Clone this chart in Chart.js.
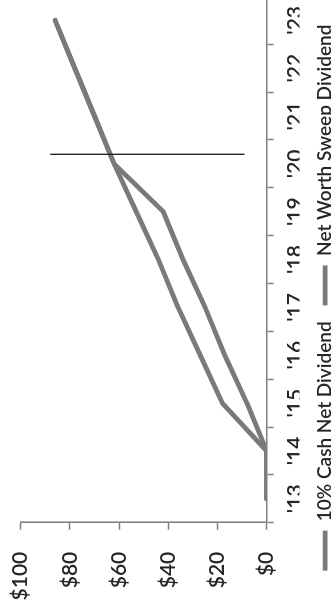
<!DOCTYPE html>
<html>
<head>
<meta charset="utf-8">
<script src="https://cdn.jsdelivr.net/npm/chart.js@4.4.1/dist/chart.umd.min.js"></script>
<style>
  html, body { margin: 0; padding: 0; background: #fff; overflow: hidden; width: 331px; height: 604px; }
  /* the chart is laid out landscape and turned a quarter turn to stand on its side */
  #frame {
    position: absolute; left: 0; top: 0;
    width: 610px; height: 400px;
    transform-origin: 0 0;
    transform: translateY(604px) rotate(-90deg);
  }
  #chart { display: block; }
</style>
</head>
<body>
<div id="frame"><canvas id="chart" width="610" height="400"></canvas></div>
<script>
// Dividend per year under the two policies
const years = ["'13", "'14", "'15", "'16", "'17", "'18", "'19", "'20", "'21", "'22", "'23"];
const cashNetDividend = [0, 0, 18, 27, 36, 44, 53, 62, 70, 78, 86];
const netWorthSweepDividend = [0, 0, 8, 17, 25, 34, 42, 62, 70, 78, 86];
const seriesNames = ['10% Cash Net Dividend', 'Net Worth Sweep Dividend'];
const valueTicks = [0, 20, 40, 60, 80, 100];

// Reference mark: a rule shortly after '20, spanning this dividend range
const markerYearIndex = 7.2;
const markerRange = [9, 88];

// Plot area edges inside the landscape canvas
const plotFrame = { left: 81.3, right: 609.3, top: 20.7, bottom: 266.6 };

const FONT = 'Lato, "Open Sans", sans-serif';
const LINE_GREY = '#7a7a7a';
const AXIS_GREY = '#808080';
const TEXT = '#262626';

const markerRule = {
  id: 'markerRule',
  afterDatasetsDraw(chart) {
    const xs = chart.scales.x, ys = chart.scales.y;
    const i = Math.floor(markerYearIndex), f = markerYearIndex - i;
    const x0 = xs.getPixelForValue(i), x1 = xs.getPixelForValue(i + 1);
    const px = x0 + (x1 - x0) * f;
    const ctx = chart.ctx;
    ctx.save();
    ctx.strokeStyle = '#1a1a1a';
    ctx.lineWidth = 1.3;
    ctx.beginPath();
    ctx.moveTo(px, ys.getPixelForValue(markerRange[0]));
    ctx.lineTo(px, ys.getPixelForValue(markerRange[1]));
    ctx.stroke();
    ctx.restore();
  }
};

const lineStyle = {
  borderColor: LINE_GREY,
  backgroundColor: LINE_GREY,
  borderWidth: 4.8,
  pointRadius: 0,
  tension: 0,
  borderJoinStyle: 'round',
  borderCapStyle: 'round'
};

// axes keep no extra edge padding so the plot area can sit flush with plotFrame
function noEdgePadding(scale) {
  scale.paddingTop = 0;
  scale.paddingBottom = 0;
  scale.paddingLeft = 0;
  scale.paddingRight = 0;
}

const chart = new Chart(document.getElementById('chart'), {
  type: 'line',
  data: {
    labels: years,
    datasets: [
      Object.assign({ label: seriesNames[0], data: cashNetDividend }, lineStyle),
      Object.assign({ label: seriesNames[1], data: netWorthSweepDividend }, lineStyle)
    ]
  },
  options: {
    responsive: false,
    animation: false,
    devicePixelRatio: 1,
    layout: { padding: { left: 0, right: 0.7, top: 20.7, bottom: 45 } },
    plugins: {
      tooltip: { enabled: false },
      legend: {
        position: 'bottom',
        labels: {
          usePointStyle: true,
          pointStyle: 'line',
          pointStyleWidth: 40,
          padding: 16,
          color: TEXT,
          font: { family: FONT, size: 19, weight: '600' }
        }
      }
    },
    scales: {
      x: {
        type: 'category',
        offset: true,
        grid: {
          offset: true,
          drawOnChartArea: false,
          tickLength: 7,
          tickWidth: 1.5,
          tickColor: AXIS_GREY
        },
        border: { display: true, color: AXIS_GREY, width: 1.6 },
        ticks: {
          color: TEXT,
          font: { family: FONT, size: 21, weight: '600' },
          padding: 9,
          maxRotation: 0,
          autoSkip: false
        },
        afterFit(scale) { scale.height = 33; noEdgePadding(scale); }
      },
      y: {
        min: 0,
        max: 100,
        afterBuildTicks(scale) { scale.ticks = valueTicks.map(v => ({ value: v })); },
        grid: {
          drawOnChartArea: false,
          tickLength: 7,
          tickWidth: 1.5,
          tickColor: AXIS_GREY
        },
        border: { display: true, color: AXIS_GREY, width: 1.6 },
        ticks: {
          color: TEXT,
          font: { family: FONT, size: 21, weight: '600' },
          padding: 22,
          callback: v => '$' + v
        },
        afterFit(scale) { scale.width = 81.3; noEdgePadding(scale); }
      }
    }
  },
  plugins: [markerRule]
});

// Settle the layout padding so the plot area lands on plotFrame
for (let k = 0; k < 3; k++) {
  const ca = chart.chartArea;
  const pad = chart.options.layout.padding;
  pad.top -= ca.top - plotFrame.top;
  pad.bottom += ca.bottom - plotFrame.bottom;
  pad.left -= ca.left - plotFrame.left;
  pad.right += ca.right - plotFrame.right;
  chart.update();
}
</script>
</body>
</html>
